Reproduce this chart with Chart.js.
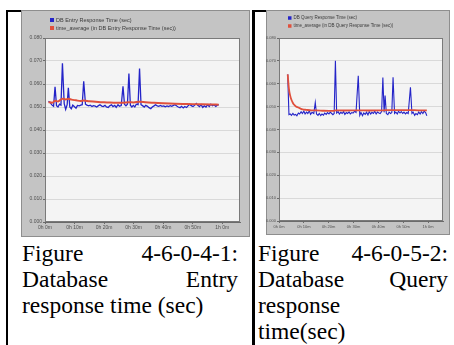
<!DOCTYPE html>
<html>
<head>
<meta charset="utf-8">
<script src="https://cdn.jsdelivr.net/npm/chart.js@4.4.1/dist/chart.umd.min.js"></script>
<style>
  html, body { margin: 0; padding: 0; background: #fff; }
  body { width: 454px; height: 345px; position: relative; overflow: hidden; }
  .rule { position: absolute; background: #000; }
  canvas { position: absolute; }
  .caption { position: absolute; font-family: 'Liberation Serif', 'Times New Roman', serif; font-size: 23.5px; line-height: 26px; color: #000; }
  .caption .just { text-align: justify; text-align-last: justify; }
</style>
</head>
<body>
<div class="rule" style="left:6px; top:10px; width:2px; height:335px;"></div>
<div class="rule" style="left:6px; top:10px; width:15px; height:2px;"></div>
<div class="rule" style="left:252px; top:10px; width:3px; height:335px;"></div>
<div class="rule" style="left:252px; top:10px; width:14px; height:2px;"></div>

<canvas id="entryChart" width="229" height="227" style="left:21px; top:10px;"></canvas>
<canvas id="queryChart" width="184" height="225" style="left:266px; top:10px;"></canvas>

<div class="caption" style="left:22px; top:240px; width:216px;">
  <div class="just">Figure 4-6-0-4-1:</div>
  <div class="just">Database Entry</div>
  <div>response time (sec)</div>
</div>
<div class="caption" style="left:258px; top:240px; width:190px;">
  <div class="just">Figure 4-6-0-5-2:</div>
  <div class="just">Database Query</div>
  <div>response</div>
  <div>time(sec)</div>
</div>

<script>
'use strict';

// axis labels
let xTickLabels = ['0h 0m', '0h 10m', '0h 20m', '0h 30m', '0h 40m', '0h 50m', '1h 0m'];

// DB Entry response time (minutes, sec)
let entryMinutes = [
  1.2, 1.8, 2.4, 2.9, 3.4, 3.9, 4.4, 4.9, 5.4, 5.9,
  6.5, 7.0, 7.5, 7.9, 8.4, 8.9, 9.4, 9.9, 10.5, 11.0,
  11.6, 12.1, 12.6, 13.1, 13.7, 14.2, 14.8, 15.3, 15.9, 16.4,
  17.0, 17.5, 18.1, 18.6, 19.2, 19.7, 20.3, 20.8, 21.4, 21.9,
  22.5, 23.0, 23.6, 24.1, 24.7, 25.2, 25.8, 26.4, 26.9, 27.4,
  27.9, 28.4, 28.9, 29.4, 29.9, 30.4, 30.9, 31.5, 32.0, 32.5,
  33.0, 33.6, 34.1, 34.7, 35.2, 35.8, 36.3, 36.9, 37.4, 38.0,
  38.5, 39.1, 39.6, 40.2, 40.7, 41.3, 41.8, 42.4, 42.9, 43.5,
  44.0, 44.6, 45.1, 45.7, 46.2, 46.8, 47.3, 47.9, 48.4, 49.0,
  49.5, 50.1, 50.6, 51.2, 51.7, 52.3, 52.8, 53.4, 53.9, 54.5,
  55.0, 55.6, 56.1, 56.7, 57.2, 57.8, 58.3, 58.8
];
let entryResponse = [
  .0525, .0518, .0508, .0503, .0588, .0506, .0500, .0512, .0508, .0690,
  .0515, .0490, .0510, .0583, .0500, .0492, .0508, .0502, .0495, .0507,
  .0505, .0508, .0510, .0612, .0512, .0508, .0505, .0508, .0502, .0506,
  .0504, .0500, .0506, .0510, .0504, .0502, .0507, .0500, .0498, .0505,
  .0509, .0502, .0507, .0498, .0510, .0503, .0506, .0590, .0512, .0505,
  .0512, .0645, .0508, .0500, .0507, .0500, .0512, .0510, .0667, .0510,
  .0506, .0500, .0507, .0503, .0497, .0493, .0500, .0505, .0510, .0505,
  .0503, .0507, .0503, .0505, .0501, .0505, .0502, .0506, .0503, .0507,
  .0510, .0504, .0500, .0497, .0503, .0496, .0502, .0498, .0505, .0512,
  .0506, .0502, .0507, .0515, .0508, .0502, .0510, .0498, .0505, .0500,
  .0510, .0502, .0512, .0506, .0510, .0503, .0508, .0510
];
let entryAvgMinutes = [1.2, 2.4, 3.4, 4.4, 5.9, 7.0, 7.9, 9.0, 10.5, 12.0, 13.1, 15.0, 18.0, 21.0, 24.0, 26.4, 28.4, 30.0, 32.0, 34.0, 37.0, 40.0, 44.0, 48.0, 52.0, 56.0, 58.8];
let entryAverage = [.0522, .0518, .0527, .0524, .0536, .0533, .0536, .0532, .0529, .0526, .0528, .0525, .0522, .0520, .0518, .0519, .0521, .0520, .0523, .0521, .0518, .0516, .0514, .0513, .0512, .0511, .0510];

// DB Query response time (minutes, sec)
let queryMinutes = [
  3.5, 4.0, 4.5, 5.0, 5.6, 6.1, 6.7, 7.2, 7.8, 8.3,
  8.9, 9.4, 10.0, 10.5, 11.1, 11.6, 12.2, 12.7, 13.3, 14.0,
  14.6, 15.1, 15.7, 16.2, 16.8, 17.3, 17.9, 18.4, 19.0, 19.5,
  20.1, 20.6, 21.2, 21.7, 22.2, 22.7, 23.2, 23.8, 24.3, 24.9,
  25.4, 26.0, 26.5, 27.1, 27.6, 28.2, 28.7, 29.3, 29.8, 30.4,
  31.0, 31.9, 32.5, 33.0, 33.6, 34.1, 34.7, 35.2, 35.8, 36.3,
  36.9, 37.4, 38.0, 38.5, 39.1, 39.6, 40.2, 40.7, 41.3, 41.8,
  42.3, 42.7, 43.2, 43.8, 44.3, 44.9, 45.4, 45.9, 46.5, 47.0,
  47.6, 48.1, 48.7, 49.2, 49.8, 50.3, 50.9, 51.4, 52.0, 52.9,
  53.5, 54.0, 54.6, 55.1, 55.7, 56.2, 56.8, 57.3, 57.9, 58.4,
  59.0, 59.5
];
let queryResponse = [
  .0641, .0465, .0468, .0462, .0470, .0463, .0466, .0460, .0472, .0468,
  .0478, .0470, .0480, .0468, .0476, .0470, .0482, .0466, .0475, .0470,
  .0518, .0468, .0462, .0470, .0461, .0468, .0463, .0472, .0466, .0474,
  .0468, .0476, .0470, .0465, .0470, .0700, .0472, .0478, .0468, .0475,
  .0470, .0478, .0466, .0474, .0470, .0477, .0468, .0474, .0472, .0480,
  .0475, .0635, .0462, .0474, .0460, .0472, .0466, .0476, .0464, .0478,
  .0468, .0475, .0470, .0480, .0468, .0476, .0472, .0470, .0478, .0627,
  .0475, .0548, .0470, .0465, .0476, .0470, .0474, .0628, .0470, .0476,
  .0468, .0480, .0472, .0478, .0470, .0476, .0468, .0474, .0470, .0585,
  .0470, .0476, .0462, .0470, .0465, .0476, .0468, .0478, .0470, .0480,
  .0474, .0460
];
let queryAvgMinutes = [3.5, 4.0, 4.5, 5.0, 5.6, 6.1, 6.7, 7.5, 8.5, 9.5, 11.0, 13.0, 15.0, 18.0, 22.0, 22.7, 26.0, 31.9, 36.0, 41.8, 46.0, 52.9, 56.0, 59.5];
let queryAverage = [.0641, .0578, .0548, .0530, .0516, .0508, .0502, .0497, .0492, .0488, .0486, .0484, .0484, .0482, .0481, .0484, .0483, .0484, .0483, .0484, .0485, .0485, .0484, .0484];

function toPoints(xs, ys) {
  return xs.map((x, i) => ({ x: x, y: ys[i] }));
}

// gray panel, light plot area, frame and the little legend at the top
let panelPlugin = {
  id: 'panel',
  beforeDraw(chart) {
    let ctx = chart.ctx;
    let a = chart.chartArea;
    ctx.save();
    ctx.fillStyle = '#c4c4c4';
    ctx.fillRect(0, 0, chart.width, chart.height);
    ctx.strokeStyle = '#8e8e8e';
    ctx.lineWidth = 1;
    ctx.strokeRect(0.5, 0.5, chart.width - 1, chart.height - 1);
    ctx.fillStyle = '#f4f4f4';
    ctx.fillRect(a.left, a.top, a.right - a.left, a.bottom - a.top);
    ctx.restore();
  },
  afterDraw(chart, args, opts) {
    let ctx = chart.ctx;
    let a = chart.chartArea;
    ctx.save();
    ctx.strokeStyle = '#7a7a7a';
    ctx.lineWidth = 1;
    ctx.strokeRect(a.left + 0.5, a.top + 0.5, a.right - a.left - 1, a.bottom - a.top - 1);
    ctx.font = opts.fontSize + 'px Arial, "Liberation Sans", sans-serif';
    ctx.textBaseline = 'middle';
    chart.data.datasets.forEach((ds, i) => {
      let y = opts.y + i * opts.gap;
      ctx.fillStyle = ds.borderColor;
      ctx.fillRect(opts.x, y - opts.box / 2, opts.box, opts.box);
      ctx.fillStyle = '#3a3a3a';
      ctx.fillText(ds.label, opts.x + opts.box + 2, y);
    });
    ctx.restore();
  }
};

function makeChart(id, name, xs, ys, avgXs, avgYs, look) {
  return new Chart(document.getElementById(id), {
    type: 'line',
    data: {
      datasets: [{
        label: name,
        data: toPoints(xs, ys),
        borderColor: '#2424c8',
        borderWidth: look.blueWidth,
        pointRadius: 0,
        tension: 0,
        order: 1
      }, {
        label: 'time_average (in ' + name + ')',
        data: toPoints(avgXs, avgYs),
        borderColor: '#e0503c',
        borderWidth: look.redWidth,
        pointRadius: 0,
        cubicInterpolationMode: 'monotone',
        order: 0
      }]
    },
    options: {
      responsive: false,
      animation: false,
      events: [],
      layout: { padding: { left: 0, top: 28, right: look.padRight, bottom: 0 } },
      plugins: {
        legend: { display: false },
        tooltip: { enabled: false },
        panel: look.legend
      },
      scales: {
        x: {
          type: 'linear',
          min: 0,
          max: 66,
          ticks: {
            stepSize: 10,
            includeBounds: false,
            autoSkip: false,
            maxRotation: 0,
            padding: 1,
            color: '#505050',
            font: { size: look.tickFont, family: 'Arial, "Liberation Sans", sans-serif' },
            callback: (v) => xTickLabels[Math.round(v / 10)]
          },
          grid: { drawOnChartArea: false, tickLength: 2, tickColor: '#6a6a6a' },
          border: { color: '#6a6a6a' },
          afterFit: (scale) => { scale.height = look.xHeight; }
        },
        y: {
          min: 0,
          max: 0.08,
          ticks: {
            stepSize: 0.01,
            padding: 1,
            color: '#505050',
            font: { size: look.tickFont, family: 'Arial, "Liberation Sans", sans-serif' },
            callback: (v) => v.toFixed(3)
          },
          grid: { color: '#d9d9d9', tickLength: 2, tickColor: '#6a6a6a' },
          border: { color: '#6a6a6a' },
          afterFit: (scale) => { scale.width = look.yWidth; }
        }
      }
    },
    plugins: [panelPlugin]
  });
}

makeChart('entryChart', 'DB Entry Response Time (sec)', entryMinutes, entryResponse, entryAvgMinutes, entryAverage, {
  padRight: 10, yWidth: 24, xHeight: 15, tickFont: 5, blueWidth: 1.3, redWidth: 2,
  legend: { x: 29, y: 10, gap: 8, box: 4, fontSize: 5.5 }
});

makeChart('queryChart', 'DB Query Response Time (sec)', queryMinutes, queryResponse, queryAvgMinutes, queryAverage, {
  padRight: 7, yWidth: 13, xHeight: 14, tickFont: 4, blueWidth: 1.1, redWidth: 1.8,
  legend: { x: 22, y: 8, gap: 8, box: 3.5, fontSize: 4.5 }
});
</script>
</body>
</html>
